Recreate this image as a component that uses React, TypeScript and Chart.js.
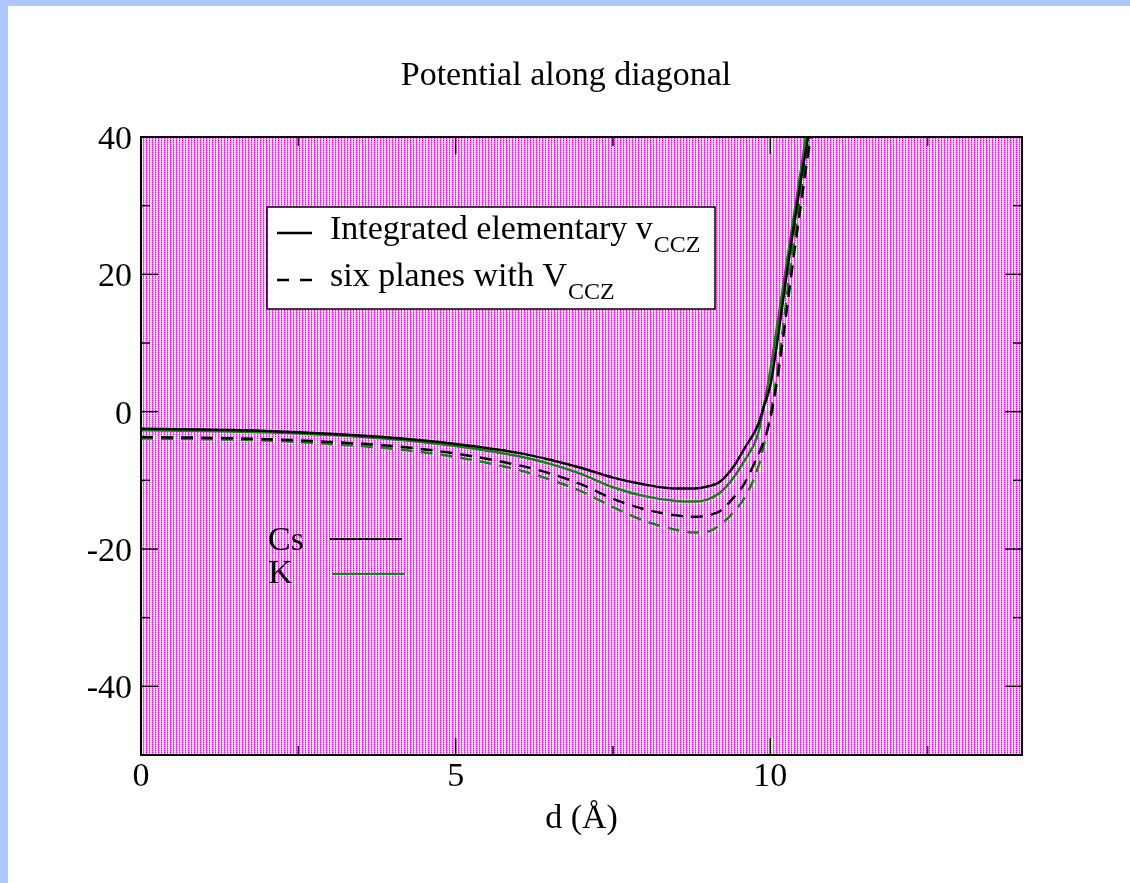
import React, { useEffect, useRef } from "react";
import { Chart, registerables } from "chart.js";

Chart.register(...registerables);

// ---- data (d in Å, potential) ----
const D_CS_INT = [0, 1, 2, 3, 4, 5, 6, 6.5, 7, 7.5, 8, 8.5, 8.8, 9.0, 9.2, 9.4, 9.6, 9.8, 9.9, 10.0, 10.1, 10.2, 10.3, 10.4, 10.5, 10.62];
const V_CS_INT = [-2.5, -2.6, -2.8, -3.2, -3.8, -4.7, -6.0, -7.0, -8.2, -9.6, -10.6, -11.2, -11.2, -10.9, -10.2, -8.2, -5.2, -2.0, 0.8, 3.8, 9.5, 16, 22.5, 28.5, 34.5, 41];

const D_K_INT = [0, 1, 2, 3, 4, 5, 6, 6.5, 7, 7.5, 8, 8.5, 8.8, 9.0, 9.2, 9.4, 9.6, 9.8, 9.9, 10.0, 10.1, 10.2, 10.3, 10.4, 10.5, 10.58];
const V_K_INT = [-2.7, -2.8, -3.0, -3.4, -4.0, -5.0, -6.5, -7.6, -9.1, -11.0, -12.3, -13.0, -13.1, -12.8, -11.8, -9.8, -7.0, -3.4, 1.0, 6.0, 12, 18, 24, 30, 36, 41];

const D_CS_SIX = [0, 1, 2, 3, 4, 5, 6, 6.5, 7, 7.5, 8, 8.5, 8.8, 9.0, 9.2, 9.4, 9.6, 9.8, 9.9, 10.0, 10.1, 10.2, 10.3, 10.4, 10.5, 10.6, 10.68];
const V_CS_SIX = [-3.7, -3.8, -4.0, -4.4, -5.0, -6.1, -7.8, -9.0, -10.6, -12.7, -14.2, -15.1, -15.3, -15.1, -14.5, -12.7, -10.3, -6.4, -4.2, -1.0, 4, 10.5, 17.5, 24.5, 31, 37.5, 42];

const D_K_SIX = [0, 1, 2, 3, 4, 5, 6, 6.5, 7, 7.5, 8, 8.5, 8.8, 9.0, 9.2, 9.4, 9.6, 9.8, 9.9, 10.0, 10.1, 10.2, 10.3, 10.4, 10.5, 10.6, 10.68];
const V_K_SIX = [-3.9, -4.0, -4.2, -4.7, -5.4, -6.6, -8.5, -9.9, -11.6, -13.9, -15.9, -17.2, -17.6, -17.5, -16.5, -14.8, -12.4, -8.3, -4.8, -0.5, 5, 12, 19.5, 26.5, 33, 39, 43];

const X_TICKS = [0, 5, 10];
const X_MINOR = [2.5, 7.5, 12.5];
const Y_TICKS = [-40, -20, 0, 20, 40];
const Y_MINOR = [-30, -10, 10, 30];

const TITLE = "Potential along diagonal";
const X_TITLE = "d (Å)";
const LEGEND_ROWS = ["Integrated elementary v", "six planes with V"];
const LEGEND_SUB = "CCZ";
const SERIES_NAMES = ["Cs", "K"];

const BLACK = "#000000";
const GREEN = "#0a8a0a";
const FONT = "'Liberation Serif', 'Times New Roman', serif";

const pts = (xs: number[], ys: number[]) => xs.map((x, i) => ({ x, y: ys[i] }));

let patternCache: CanvasPattern | null = null;
function getPattern(ctx: CanvasRenderingContext2D) {
  if (patternCache) return patternCache;
  const t = document.createElement("canvas");
  t.width = 3;
  t.height = 2;
  const c = t.getContext("2d")!;
  const cols = [
    ["#ff00ff", "#ffaaff", "#ffffff"],
    ["#ff66ff", "#ffffff", "#ffccff"],
  ];
  for (let r = 0; r < 2; r++)
    for (let k = 0; k < 3; k++) {
      c.fillStyle = cols[r][k];
      c.fillRect(k, r, 1, 1);
    }
  patternCache = ctx.createPattern(t, "repeat");
  return patternCache!;
}

const decorPlugin = {
  id: "decor",
  beforeDatasetsDraw(chart: any) {
    const { ctx, chartArea: a } = chart;
    ctx.save();
    ctx.fillStyle = getPattern(ctx);
    ctx.fillRect(a.left, a.top, a.right - a.left, a.bottom - a.top);
    ctx.restore();
  },
  afterDatasetsDraw(chart: any) {
    const { ctx, chartArea: a, scales } = chart;
    const xs = scales.x;
    const ys = scales.y;
    ctx.save();
    ctx.strokeStyle = BLACK;
    ctx.lineWidth = 2;
    ctx.strokeRect(a.left, a.top, a.right - a.left, a.bottom - a.top);
    ctx.lineWidth = 1.5;
    const seg = (x1: number, y1: number, x2: number, y2: number) => {
      ctx.beginPath();
      ctx.moveTo(x1, y1);
      ctx.lineTo(x2, y2);
      ctx.stroke();
    };
    const MAJ = 17;
    const MIN = 9;
    X_TICKS.forEach((v) => {
      const p = xs.getPixelForValue(v);
      seg(p, a.bottom, p, a.bottom - MAJ);
      seg(p, a.top, p, a.top + MAJ);
    });
    X_MINOR.forEach((v) => {
      const p = xs.getPixelForValue(v);
      seg(p, a.bottom, p, a.bottom - MIN);
      seg(p, a.top, p, a.top + MIN);
    });
    Y_TICKS.forEach((v) => {
      const p = ys.getPixelForValue(v);
      seg(a.left, p, a.left + MAJ, p);
      seg(a.right, p, a.right - MAJ, p);
    });
    Y_MINOR.forEach((v) => {
      const p = ys.getPixelForValue(v);
      seg(a.left, p, a.left + MIN, p);
      seg(a.right, p, a.right - MIN, p);
    });

    ctx.fillStyle = BLACK;
    ctx.textBaseline = "alphabetic";
    ctx.textAlign = "center";
    ctx.font = `34px ${FONT}`;
    ctx.fillText(TITLE, 558, 79);
    ctx.fillText(X_TITLE, (a.left + a.right) / 2, 822);

    const bx = 259, by = 201, bw = 448, bh = 102;
    ctx.fillStyle = "#ffffff";
    ctx.fillRect(bx, by, bw, bh);
    ctx.strokeStyle = BLACK;
    ctx.lineWidth = 1.5;
    ctx.strokeRect(bx, by, bw, bh);

    ctx.lineWidth = 2.5;
    ctx.strokeStyle = BLACK;
    seg(269, 227, 304, 227);
    ctx.setLineDash([12, 11]);
    seg(269, 274, 304, 274);
    ctx.setLineDash([]);

    ctx.fillStyle = BLACK;
    ctx.textAlign = "left";
    const rowsY = [233, 280];
    LEGEND_ROWS.forEach((txt, i) => {
      ctx.font = `34px ${FONT}`;
      ctx.fillText(txt, 322, rowsY[i]);
      const w = ctx.measureText(txt).width;
      ctx.font = `24px ${FONT}`;
      ctx.fillText(LEGEND_SUB, 322 + w + 1, rowsY[i] + 13);
    });

    ctx.font = `34px ${FONT}`;
    ctx.fillText(SERIES_NAMES[0], 260, 544);
    ctx.fillText(SERIES_NAMES[1], 260, 577);
    ctx.lineWidth = 2;
    ctx.strokeStyle = BLACK;
    seg(322, 533, 394, 533);
    ctx.strokeStyle = GREEN;
    seg(324, 568, 397, 568);

    ctx.restore();
  },
};

export default function App() {
  const ref = useRef<HTMLCanvasElement | null>(null);
  useEffect(() => {
    if (!ref.current) return;
    const common = {
      fill: false,
      pointRadius: 0,
      borderWidth: 2.5,
      cubicInterpolationMode: "monotone" as const,
    };
    const chart = new Chart(ref.current, {
      type: "line",
      data: {
        datasets: [
          { ...common, label: "Cs integrated", data: pts(D_CS_INT, V_CS_INT), borderColor: BLACK },
          { ...common, label: "K integrated", data: pts(D_K_INT, V_K_INT), borderColor: GREEN },
          { ...common, label: "Cs six planes", data: pts(D_CS_SIX, V_CS_SIX), borderColor: BLACK, borderDash: [12, 8] },
          { ...common, label: "K six planes", data: pts(D_K_SIX, V_K_SIX), borderColor: GREEN, borderDash: [12, 8] },
        ],
      },
      options: {
        animation: false,
        responsive: false,
        maintainAspectRatio: false,
        layout: { padding: { left: 0, top: 131, right: 108, bottom: 0 } },
        plugins: { legend: { display: false }, title: { display: false }, tooltip: { enabled: false } },
        scales: {
          x: {
            type: "linear",
            min: 0,
            max: 14,
            grid: { display: false, drawTicks: false },
            border: { display: false },
            afterFit: (s: any) => { s.height = 128; },
            afterBuildTicks: (s: any) => { s.ticks = X_TICKS.map((v) => ({ value: v })); },
            ticks: { padding: 2, color: BLACK, font: { family: FONT, size: 34 } },
          },
          y: {
            type: "linear",
            min: -50,
            max: 40,
            grid: { display: false, drawTicks: false },
            border: { display: false },
            afterFit: (s: any) => { s.width = 133; },
            afterBuildTicks: (s: any) => { s.ticks = Y_TICKS.map((v) => ({ value: v })); },
            ticks: { padding: 9, labelOffset: 3, color: BLACK, font: { family: FONT, size: 34 } },
          },
        },
      },
      plugins: [decorPlugin],
    } as any);
    return () => chart.destroy();
  }, []);

  return (
    <div style={{ position: "fixed", left: 0, top: 0, width: 1130, height: 883, background: "#b0c8fe", overflow: "hidden" }}>
      <div style={{ position: "absolute", left: 8, top: 6, width: 1122, height: 877, background: "#ffffff" }}>
        <canvas ref={ref} width={1122} height={877} style={{ display: "block", width: 1122, height: 877 }} />
      </div>
    </div>
  );
}
